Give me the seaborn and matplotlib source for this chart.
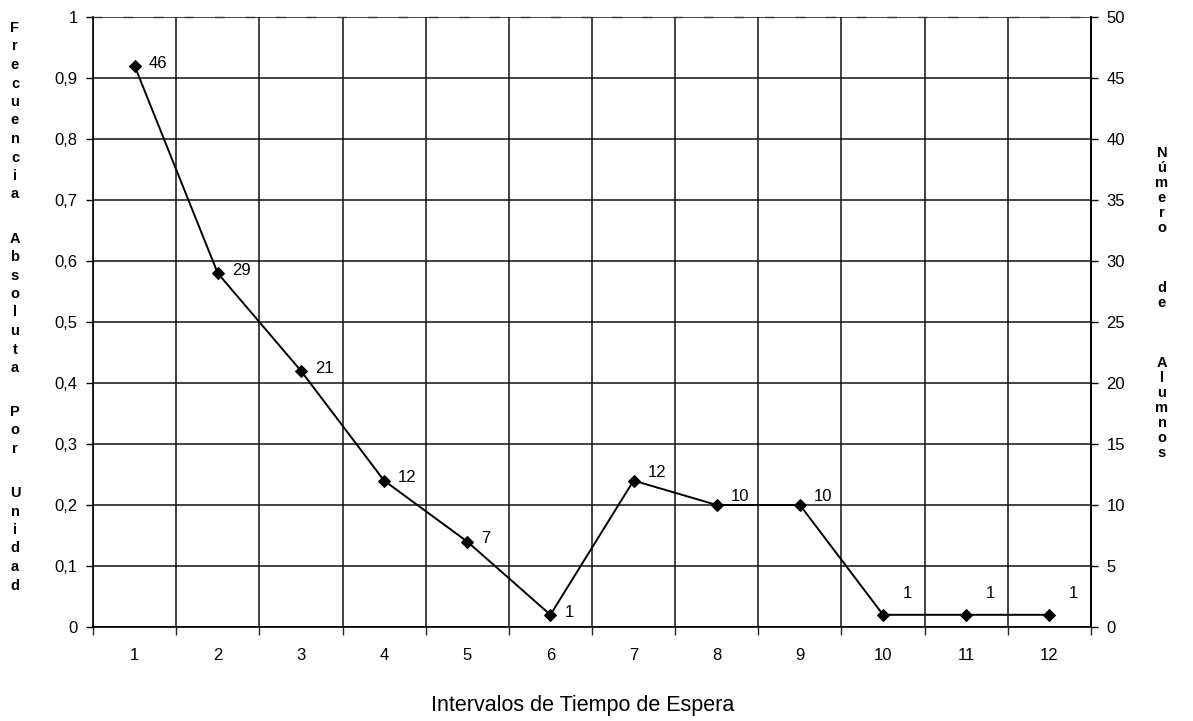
import numpy as np
import matplotlib
matplotlib.use("Agg")
import matplotlib.pyplot as plt
import seaborn as sns

# ---- data ----
intervals = [1, 2, 3, 4, 5, 6, 7, 8, 9, 10, 11, 12]
freq = [0.92, 0.58, 0.42, 0.24, 0.14, 0.02, 0.24, 0.20, 0.20, 0.02, 0.02, 0.02]
counts = [46, 29, 21, 12, 7, 1, 12, 10, 10, 1, 1, 1]
left_ticks = [0, 0.1, 0.2, 0.3, 0.4, 0.5, 0.6, 0.7, 0.8, 0.9, 1]
left_tick_labels = ["0", "0,1", "0,2", "0,3", "0,4", "0,5", "0,6", "0,7", "0,8", "0,9", "1"]
right_ticks = [0, 5, 10, 15, 20, 25, 30, 35, 40, 45, 50]
left_title = "Frecuencia Absoluta Por Unidad"
right_title = "Número de Alumnos"
x_title = "Intervalos de Tiempo de Espera"

sns.set_theme(style="ticks")
plt.rcParams["font.family"] = ["Liberation Sans", "DejaVu Sans"]

W, H = 1193, 721
fig = plt.figure(figsize=(W / 100, H / 100), dpi=100)
fig.patch.set_facecolor("white")
L, R, T, B = 93, 1091, 17, 627
ax = fig.add_axes([L / W, 1 - B / H, (R - L) / W, (B - T) / H])
ax.set_facecolor("white")

sns.lineplot(x=intervals, y=freq, ax=ax, color="black", marker="D",
             markersize=6, markeredgecolor="black", linewidth=1.4, zorder=5)

ax.set_xlim(0.5, 12.5)
ax.set_ylim(0, 1)
ax.set_xticks(intervals)
ax.set_xticklabels([str(i) for i in intervals], fontsize=12)
ax.set_xticks(np.arange(0.5, 12.6, 1), minor=True)
ax.tick_params(axis="x", which="major", length=0, pad=15, colors="black")
ax.tick_params(axis="x", which="minor", length=6, width=1, direction="out", bottom=True)
ax.set_yticks(left_ticks)
ax.set_yticklabels(left_tick_labels, fontsize=12)
ax.tick_params(axis="y", length=5, width=1, direction="out", pad=6, left=True, colors="black")
ax.grid(False)
ax.grid(which="minor", axis="x", color="#111111", linewidth=1.1)
ax.grid(which="major", axis="y", color="#111111", linewidth=1.1)
ax.set_xlabel("")
ax.set_ylabel("")
for s in ["left", "bottom", "right"]:
    ax.spines[s].set_color("black")
    ax.spines[s].set_linewidth(1.2)
ax.spines["top"].set_color("#333333")
ax.spines["top"].set_linewidth(1.0)
ax.spines["top"].set_linestyle((0, (6, 16)))

ax2 = ax.twinx()
ax2.set_ylim(0, 50)
ax2.set_yticks(right_ticks)
ax2.set_yticklabels([str(v) for v in right_ticks], fontsize=12)
ax2.tick_params(axis="y", length=5, width=1, direction="out", pad=6, right=True, colors="black")
for s in ax2.spines.values():
    s.set_visible(False)
ax2.spines["right"].set_visible(True)
ax2.spines["right"].set_color("black")
ax2.spines["right"].set_linewidth(1.2)

# data labels
for i, (x, f, c) in enumerate(zip(intervals, freq, counts)):
    if i >= 9:
        dx, dy = 14, 15
    elif i >= 6:
        dx, dy = 10, 6
    else:
        dx, dy = 10, 2
    ax.annotate(str(c), (x, f), xytext=(dx, dy), textcoords="offset points",
                ha="left", va="center", fontsize=12, color="black", zorder=6)

# stacked axis titles
def stacked(text, x, y0, step, gap):
    y = y0
    for word_i, word in enumerate(text.split(" ")):
        if word_i > 0:
            y += gap - step
        for ch in word:
            fig.text(x / W, 1 - y / H, ch, ha="center", va="center",
                     fontsize=10.5, fontweight="heavy", color="black")
            y += step

stacked(left_title, 15, 28, 18.5, 44)
stacked(right_title, 1162, 153, 15, 60)

fig.text(583 / W, 1 - 705 / H, x_title, ha="center", va="center", fontsize=15.5, color="black")

fig.savefig("out.png", dpi=100, facecolor="white")
